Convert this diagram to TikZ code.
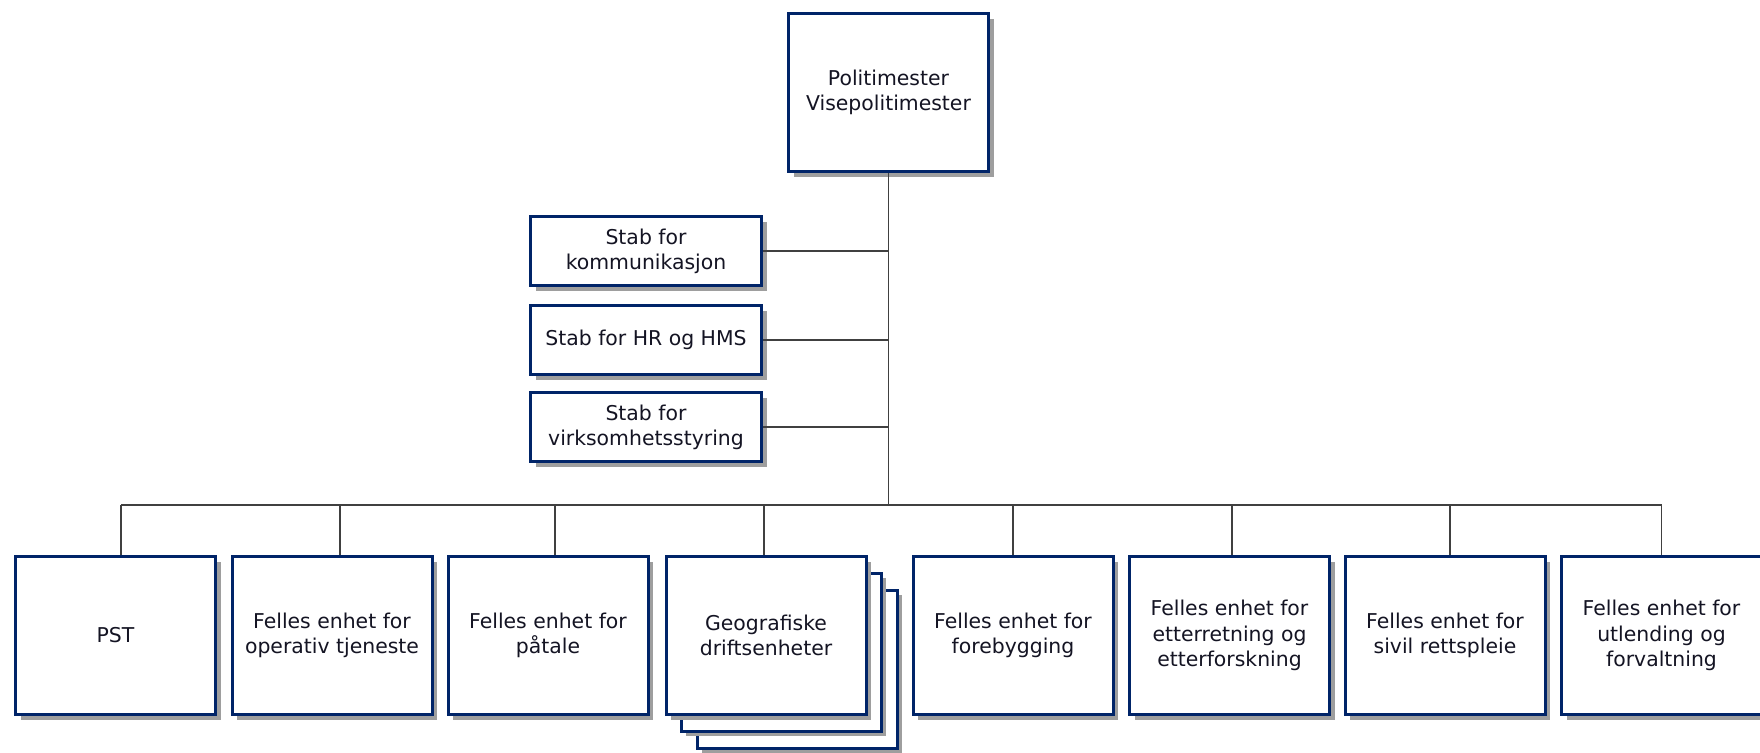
\documentclass[tikz,border=0pt]{standalone}
\usepackage{fontspec}
\setmainfont{DejaVu Sans}
\usetikzlibrary{shadows}
\definecolor{unitnavy}{RGB}{0,36,104}
\definecolor{unittext}{RGB}{20,20,35}

\begin{document}
\begin{tikzpicture}[x=0.5pt,y=-0.5pt,every node/.style={draw=unitnavy,fill=white,line width=1.5pt,align=center,inner sep=4pt,text=unittext,font=\fontsize{10.2}{12.6}\selectfont,drop shadow={shadow xshift=2.5pt,shadow yshift=-2.5pt,fill=black!38,opacity=1}},
    unit/.style={minimum width=100pt,minimum height=79pt},
    stab/.style={minimum width=115.5pt,minimum height=34.5pt},
    link/.style={draw=black!75,line width=0.75pt}]
      \useasboundingbox (0,0) rectangle (1760,752);
      \node[unit] (chief) at (888.5,92.5) {Politimester\\Visepolitimester};
      \node[stab] (comm) at (646,251) {Stab for\\kommunikasjon};
      \node[stab] (hr) at (646,340) {Stab for HR og HMS};
      \node[stab] (ctrl) at (646,427) {Stab for\\virksomhetsstyring};
      \node[unit] (pst) at (115.5,635.5) {PST};
      \node[unit] (ops) at (332,635.5) {Felles enhet for\\operativ tjeneste};
      \node[unit] (pros) at (548,635.5) {Felles enhet for\\påtale};
      \node[unit] (geo3) at (797,669) {};
      \node[unit] (geo2) at (781,652) {};
      \node[unit] (geo) at (766,635.5) {Geografiske\\driftsenheter};
      \node[unit] (prev) at (1013,635.5) {Felles enhet for\\forebygging};
      \node[unit] (intel) at (1229.5,635.5) {Felles enhet for\\etterretning og\\etterforskning};
      \node[unit] (civil) at (1445,635.5) {Felles enhet for\\sivil rettspleie};
      \node[unit] (imm) at (1661.5,635.5) {Felles enhet for\\utlending og\\forvaltning};
      \coordinate (bus) at (888.5,505);
      \draw[link] (chief.south) -- (bus)
        (comm.east) -- (comm.east -| bus)
        (hr.east) -- (hr.east -| bus)
        (ctrl.east) -- (ctrl.east -| bus)
        ([xshift=2.75pt]pst.north |- bus) -- (imm.north |- bus);
      \draw[link] ([xshift=2.75pt]pst.north |- bus) -- ([xshift=2.75pt]pst.north)
        ([xshift=4pt]ops.north |- bus) -- ([xshift=4pt]ops.north)
        ([xshift=3.5pt]pros.north |- bus) -- ([xshift=3.5pt]pros.north)
        ([xshift=-1pt]geo.north |- bus) -- ([xshift=-1pt]geo.north)
        (prev.north |- bus) -- (prev.north)
        ([xshift=1.25pt]intel.north |- bus) -- ([xshift=1.25pt]intel.north)
        ([xshift=2.5pt]civil.north |- bus) -- ([xshift=2.5pt]civil.north)
        (imm.north |- bus) -- (imm.north);
    \end{tikzpicture}
\end{document}
